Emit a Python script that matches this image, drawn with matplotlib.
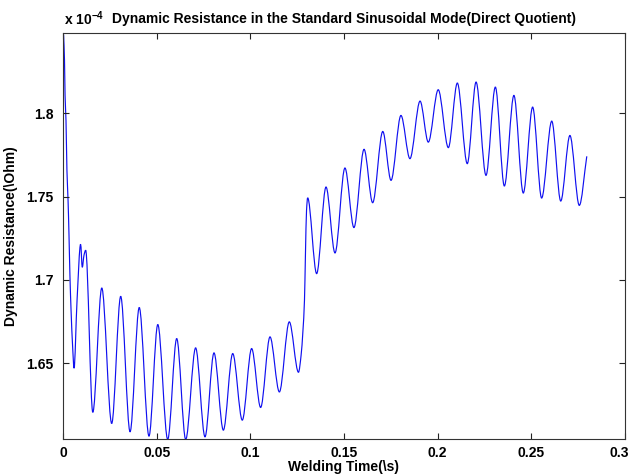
import numpy as np
import matplotlib
matplotlib.use('Agg')
import matplotlib.pyplot as plt
import matplotlib.transforms as mtransforms
from matplotlib.path import Path
from matplotlib.patches import PathPatch

# ---- data (time in s, resistance in units of 1e-4 Ohm) ----
time_s = [
    0.0003, 0.0008, 0.0011, 0.0016, 0.0021, 0.0027, 0.0032, 0.0037, 0.0043, 0.0051,
    0.0059, 0.0075, 0.0094, 0.0103, 0.0112, 0.0121, 0.0159,
    0.0207, 0.0260, 0.0308, 0.0358, 0.0407, 0.0459, 0.0506, 0.0559, 0.0607, 0.0655,
    0.0708, 0.0758, 0.0806, 0.0856, 0.0906, 0.0957, 0.1007, 0.1055, 0.1105, 0.1155,
    0.1208, 0.1257, 0.1271, 0.1281, 0.1289, 0.1294, 0.1300, 0.1306,
    0.1354, 0.1404, 0.1452, 0.1505, 0.1553, 0.1607, 0.1653, 0.1707, 0.1751, 0.1804,
    0.1852, 0.1906, 0.1950, 0.2003, 0.2057, 0.2105, 0.2158, 0.2205, 0.2258, 0.2308,
    0.2356, 0.2407, 0.2457, 0.2507, 0.2555, 0.2609, 0.2657, 0.2706, 0.2756, 0.2796,
]
resistance_e4 = [
    1.847, 1.8316, 1.8106, 1.7956, 1.7657, 1.7477, 1.7268, 1.7028, 1.6819, 1.6609,
    1.6471, 1.6878, 1.7214, 1.7076, 1.7148, 1.7178, 1.6207,
    1.6952, 1.6140, 1.6902, 1.6090, 1.6835, 1.6064, 1.6733, 1.6044, 1.6649, 1.6044,
    1.6593, 1.6060, 1.6563, 1.6100, 1.6559, 1.6160, 1.6589, 1.6236, 1.6659, 1.6329,
    1.6749, 1.6447, 1.6549, 1.6699, 1.6878, 1.7142, 1.7417, 1.7492,
    1.7038, 1.7557, 1.7162, 1.7671, 1.7314, 1.7783, 1.7463, 1.7890, 1.7597, 1.7986,
    1.7727, 1.8072, 1.7826, 1.8140, 1.7793, 1.8180, 1.7697, 1.8186, 1.7627, 1.8156,
    1.7563, 1.8106, 1.7521, 1.8036, 1.7491, 1.7952, 1.7473, 1.7866, 1.7447, 1.7741,
]

x_ticks = [0, 0.05, 0.1, 0.15, 0.2, 0.25, 0.3]
x_tick_labels = ['0', '0.05', '0.1', '0.15', '0.2', '0.25', '0.3']
y_ticks = [1.65, 1.7, 1.75, 1.8]
y_tick_labels = ['1.65', '1.7', '1.75', '1.8']

title_text = 'Dynamic Resistance in the Standard Sinusoidal Mode(Direct Quotient)'
x_label = 'Welding Time(\\s)'
y_label = 'Dynamic Resistance(\\Ohm)'

FONT = ['Liberation Sans Narrow', 'DejaVu Sans Condensed', 'Liberation Sans', 'DejaVu Sans']
plt.rcParams['font.family'] = FONT
plt.rcParams['mathtext.default'] = 'regular'


def smooth_path(x, y):
    """Monotone cubic (Hermite) line through the points, as Bezier segments."""
    x = np.asarray(x, float)
    y = np.asarray(y, float)
    h = np.diff(x)
    d = np.diff(y) / h
    m = np.zeros_like(y)
    for i in range(1, len(y) - 1):
        if d[i - 1] * d[i] > 0:
            w1 = 2 * h[i] + h[i - 1]
            w2 = h[i] + 2 * h[i - 1]
            m[i] = (w1 + w2) / (w1 / d[i - 1] + w2 / d[i])
    m[0] = d[0]
    m[-1] = d[-1]
    verts = [(x[0], y[0])]
    codes = [Path.MOVETO]
    for i in range(len(x) - 1):
        dx = h[i] / 3.0
        verts += [(x[i] + dx, y[i] + m[i] * dx),
                  (x[i + 1] - dx, y[i + 1] - m[i + 1] * dx),
                  (x[i + 1], y[i + 1])]
        codes += [Path.CURVE4] * 3
    return Path(verts, codes)


fig = plt.figure(figsize=(6.33, 4.74), dpi=100)
ax = fig.add_axes([63 / 633, 35 / 474, 562 / 633, 406 / 474])

patch = PathPatch(smooth_path(time_s, resistance_e4), fill=False,
                  edgecolor='#1010f0', linewidth=0.85, transform=ax.transData)
ax.add_patch(patch)

ax.set_xlim(0, 0.3)
ax.set_ylim(1.6047, 1.848)
ax.set_xticks(x_ticks)
ax.set_xticklabels(x_tick_labels)
ax.set_yticks(y_ticks)
ax.set_yticklabels(y_tick_labels)

ax.tick_params(direction='in', length=4, width=0.8, top=True, right=True,
               labelsize=10, colors='#222222', labelcolor='black')
ax.tick_params(axis='y', pad=7)
ax.tick_params(axis='x', pad=5)
for lab in ax.get_xticklabels() + ax.get_yticklabels():
    lab.set_fontweight('bold')
for sp in ax.spines.values():
    sp.set_color('#333333')
    sp.set_linewidth(0.8)

# keep the last x tick label inside the picture, as in the reference
last = ax.get_xticklabels()[-1]
last.set_transform(last.get_transform() +
                   mtransforms.ScaledTranslation(-4 / 72, 0, fig.dpi_scale_trans))

ax.set_title(title_text, fontsize=10, fontweight='bold', pad=7)
ax.set_xlabel(x_label, fontsize=10, fontweight='bold', labelpad=0)
ax.set_ylabel(y_label, fontsize=10, fontweight='bold', labelpad=6)

fig.text(64 / 633, 1 - 25 / 474, 'x 10$^{-4}$', fontsize=10, fontweight='bold',
         ha='left', va='baseline')

fig.savefig('out.png', dpi=100, facecolor='white')
